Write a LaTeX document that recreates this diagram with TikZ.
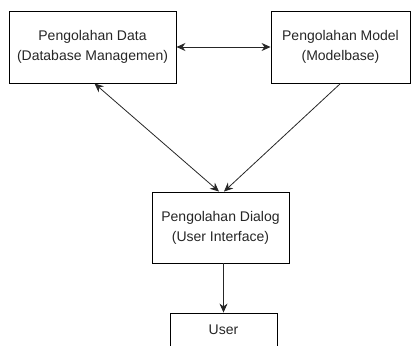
\documentclass[tikz,border=0pt]{standalone}
\usepackage{fontspec}
\setmainfont{Liberation Sans}
\usetikzlibrary{arrows.meta}
\begin{document}
\begin{tikzpicture}[x=1pt,y=-1pt,
  box/.style={draw, line width=0.9pt, align=center, inner sep=0pt,
    font=\fontsize{14}{20}\selectfont, text=black!85},
  link/.style={line width=0.8pt, draw=black!85,
    {Stealth[length=9pt,width=8pt]}-{Stealth[length=9pt,width=8pt]}},
  onelink/.style={line width=0.8pt, draw=black!85, -{Stealth[length=9pt,width=8pt]}}]
\useasboundingbox (0,0) rectangle (411,345);
\clip (0,0) rectangle (411,345);
\node[box, minimum width=167pt, minimum height=72pt] (data) at (92.5,47)
  {Pengolahan Data\\(Database Managemen)};
\node[box, minimum width=139pt, minimum height=72pt] (model) at (340.5,47)
  {Pengolahan Model\\(Modelbase)};
\node[box, minimum width=137pt, minimum height=71pt] (dialog) at (220.5,227.5)
  {Pengolahan Dialog\\(User Interface)};
\node[box, minimum width=107pt, minimum height=34pt] (user) at (223.5,330) {User};
\draw[link] (data.east) -- (model.west);
\draw[link] ([xshift=2pt]data.south) -- ([xshift=-1.5pt]dialog.north);
\draw[onelink] (model.south) -- ([xshift=3.5pt]dialog.north);
\draw[onelink] (user.north |- dialog.south) -- (user.north);
\end{tikzpicture}
\end{document}
